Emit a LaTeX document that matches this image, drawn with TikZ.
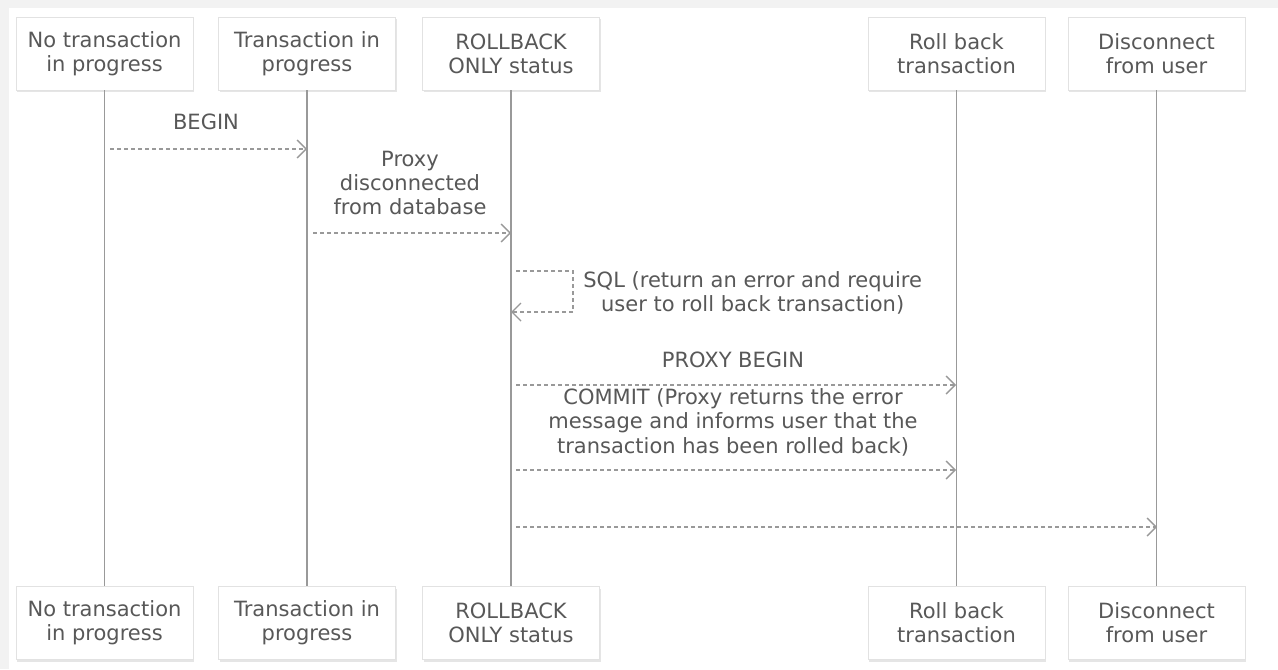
\documentclass[tikz,border=0pt]{standalone}
\usepackage{fontspec}
\setmainfont{DejaVu Sans}
\usetikzlibrary{arrows.meta,shadows}
\definecolor{txtgray}{HTML}{585858}
\definecolor{linegray}{HTML}{999999}
\definecolor{boxedge}{HTML}{E2E2E2}
\definecolor{bggray}{HTML}{F2F2F2}

\begin{document}
\begin{tikzpicture}[x=0.5pt, y=-0.5pt, >={Straight Barb[length=4.5pt,width=9pt]},
    state/.style={draw=boxedge, fill=white, line width=0.4pt, minimum width=88.5pt, minimum height=36.5pt,
        inner sep=0pt, align=center, text=txtgray, font=\fontsize{10.5}{12}\selectfont,
        drop shadow={opacity=0.2, shadow xshift=0.7pt, shadow yshift=-1pt}},
    life/.style={draw=linegray, line width=0.7pt},
    msg/.style={->, draw=linegray, line width=0.7pt, dash pattern=on 2pt off 1.5pt},
    lbl/.style={align=center, text=txtgray, inner sep=0pt, font=\fontsize{10.5}{12.2}\selectfont}]

            % Frame
            \fill[bggray] (0,0) rectangle (1278,669);
            \fill[white] (9,8) rectangle (1278,669);
            \useasboundingbox (0,0) rectangle (1278,669);

            % States at the top
            \node[state] (notx) at (104.5,53.5) {No transaction\\in progress};
            \node[state] (intx) at (307,53.5) {Transaction in\\progress};
            \node[state] (rbonly) at (511,53.5) {ROLLBACK\\ONLY status};
            \node[state] (rbtx) at (956.5,53.5) {Roll back\\transaction};
            \node[state] (disc) at (1156.5,53.5) {Disconnect\\from user};

            % States at the bottom
            \node[state] (notxB) at (104.5,623) {No transaction\\in progress};
            \node[state] (intxB) at (307,623) {Transaction in\\progress};
            \node[state] (rbonlyB) at (511,623) {ROLLBACK\\ONLY status};
            \node[state] (rbtxB) at (956.5,623) {Roll back\\transaction};
            \node[state] (discB) at (1156.5,623) {Disconnect\\from user};

            % Lifelines
            \draw[life] (notx) -- (notxB);
            \draw[life] (intx) -- (intxB);
            \draw[life] (rbonly) -- (rbonlyB);
            \draw[life] (rbtx) -- (rbtxB);
            \draw[life] (disc) -- (discB);

            % BEGIN
            \coordinate (beginS) at (110,149);
            \coordinate (beginE) at (307,149);
            \draw[msg] (beginS) -- (beginE);
            \node[lbl] (beginL) at (206,122) {BEGIN};

            % Proxy disconnected
            \coordinate (proxyS) at (313,233);
            \coordinate (proxyE) at (511,233);
            \draw[msg] (proxyS) -- (proxyE);
            \node[lbl] (proxyL) at (410,183) {Proxy\\disconnected\\from database};

            % SQL, back to itself
            \coordinate (sqlS) at (516,271);
            \coordinate (sqlE) at (511,312);
            \draw[msg] (sqlS) -- ++(57,0) |- (sqlE);
            \node[lbl, anchor=west] (sqlL) at (583,293) {SQL (return an error and require\\user to roll back transaction)};

            % PROXY BEGIN
            \coordinate (pbeginS) at (516,385);
            \coordinate (pbeginE) at (956,385);
            \draw[msg] (pbeginS) -- (pbeginE);
            \node[lbl] (pbeginL) at (733,360) {PROXY BEGIN};

            % COMMIT
            \coordinate (commitS) at (516,470);
            \coordinate (commitE) at (956,470);
            \draw[msg] (commitS) -- (commitE);
            \node[lbl] (commitL) at (733,422) {COMMIT (Proxy returns the error\\message and informs user that the\\transaction has been rolled back)};

            % Disconnect
            \coordinate (discS) at (516,527);
            \coordinate (discE) at (1157,527);
            \draw[msg] (discS) -- (discE);
        \end{tikzpicture}
\end{document}
